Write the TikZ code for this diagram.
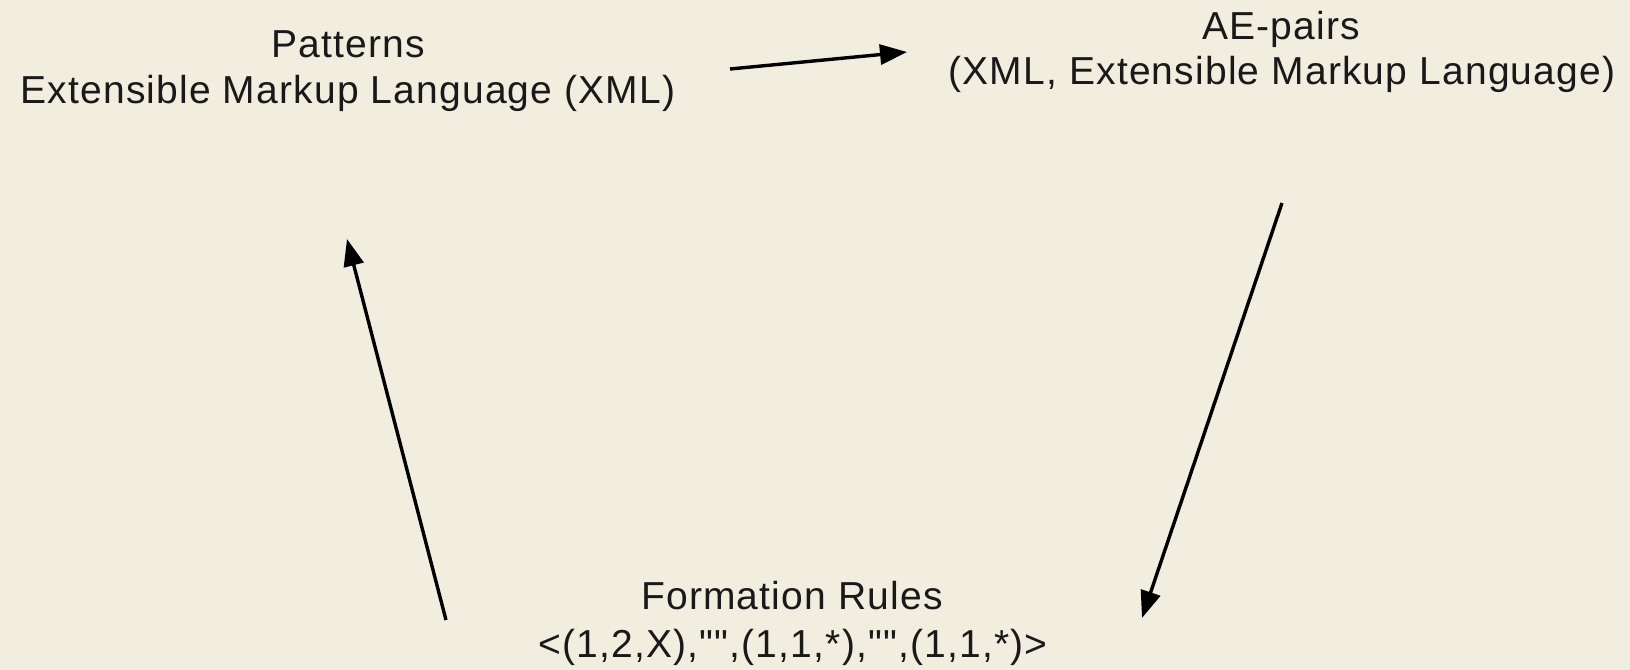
\documentclass[tikz,border=0pt]{standalone}
\usepackage{fontspec}
\setmainfont{Liberation Sans}[LetterSpace=3, Ligatures=TeXOff]
\usetikzlibrary{arrows.meta}
\definecolor{parch}{RGB}{241,237,223}
\tikzset{
  lbl/.style={inner sep=0pt, anchor=base, font=\fontsize{19.5pt}{23pt}\selectfont, text=black!90},
  conn/.style={line width=1.7pt, -{Triangle[length=13.5pt,width=10pt]}},
}
\begin{document}
\begin{tikzpicture}[x=0.5pt,y=-0.5pt]
\fill[parch] (0,0) rectangle (1630,670);
\useasboundingbox (0,0) rectangle (1630,670);
\node[lbl] (pat) at (348,57) {Patterns};
\node[lbl] (patsub) at (348,103) {Extensible Markup Language (XML)};
\node[lbl] (ae) at (1281,39) {AE-pairs};
\node[lbl] (aesub) at (1282,84) {(XML, Extensible Markup Language)};
\node[lbl] (form) at (792,609) {Formation Rules};
\node[lbl] (formsub) at (793,657) {<(1,2,X),"",(1,1,*),"",(1,1,*)>};
\coordinate (p1) at (730,69);
\coordinate (a1) at (907,52);
\coordinate (a2) at (1282,203);
\coordinate (f3) at (1142,618);
\coordinate (f2) at (446,620);
\coordinate (p2) at (347,239);
\draw[conn] (p1) -- (a1);
\draw[conn] (a2) -- (f3);
\draw[conn] (f2) -- (p2);
\end{tikzpicture}
\end{document}
